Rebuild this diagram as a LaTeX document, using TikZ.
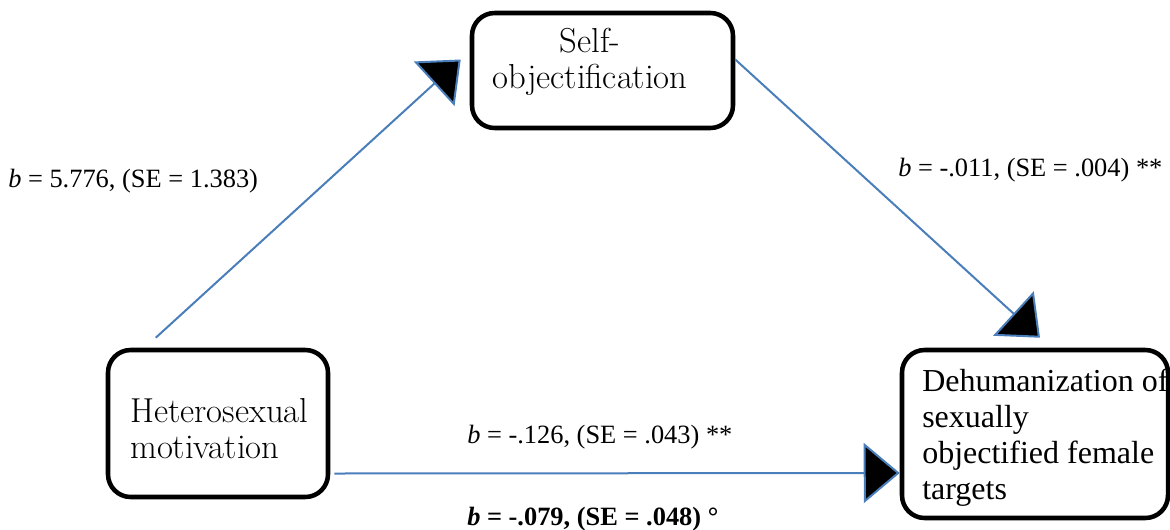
\documentclass[tikz,border=0pt]{standalone}
\usepackage{fontspec}
\newfontfamily\timesfont{Liberation Serif}
\usetikzlibrary{arrows.meta,calc}
\definecolor{lineblue}{HTML}{4A7EBB}
\begin{document}
\begin{tikzpicture}[x=0.75pt,y=-0.75pt,
  box/.style={draw=black,line width=3.4pt,rounded corners=17pt,inner sep=0pt},
  boxtext/.style={font=\fontsize{26}{27}\selectfont,inner sep=0pt},
  dehtext/.style={font=\timesfont\fontsize{24}{27}\selectfont,inner sep=0pt},
  lab/.style={font=\timesfont\fontsize{19.8}{24}\selectfont,inner sep=0pt,anchor=base west},
  conn/.style={draw=lineblue,line width=1.5pt,-{Triangle[length=27pt,width=45pt,fill=black]}}]
\useasboundingbox (0,0) rectangle (1170,529);
% texts inside boxes (base anchor = baseline of last line)
\node[boxtext,align=center,anchor=base] (sot) at (590,88) {Self-\\objectification};
\node[boxtext,align=left,anchor=base west] (hett) at (130,458) {Heterosexual\\motivation};
\node[dehtext,align=left,anchor=base west] (deht) at (922,499) {Dehumanization of\\sexually\\objectified female\\targets};
% boxes
\node[box,minimum width=195.75pt,minimum height=86.25pt] (so) at (602.5,70.5) {};
\node[box,minimum width=165pt,minimum height=110.25pt] (het) at (218,423.5) {};
\node[box,minimum width=199.5pt,minimum height=126pt] (deh) at (1035,434) {};
% connectors
\draw[conn] ($(het.north west)+(50,-10)$) -- ($(so.west)+(-9,-11)$);
\draw[conn] ($(so.east)+(0,-11)$) -- ($(deh.north)+(5,-10)$);
\draw[conn] ($(het.east)+(4,50)$) -- ($(deh.west)+(0,39)$);
% labels
\node[lab] (l1) at (8,187) {\textit{b} = 5.776, (SE = 1.383)};
\node[lab] (l2) at (898,176) {\textit{b} = -.011, (SE = .004) **};
\node[lab] (l3) at (467,443) {\textit{b} = -.126, (SE = .043) **};
\node[lab,font=\timesfont\bfseries\fontsize{19.8}{24}\selectfont] (l4) at (467,525) {\textit{b} = -.079, (SE = .048) °};
\end{tikzpicture}
\end{document}
